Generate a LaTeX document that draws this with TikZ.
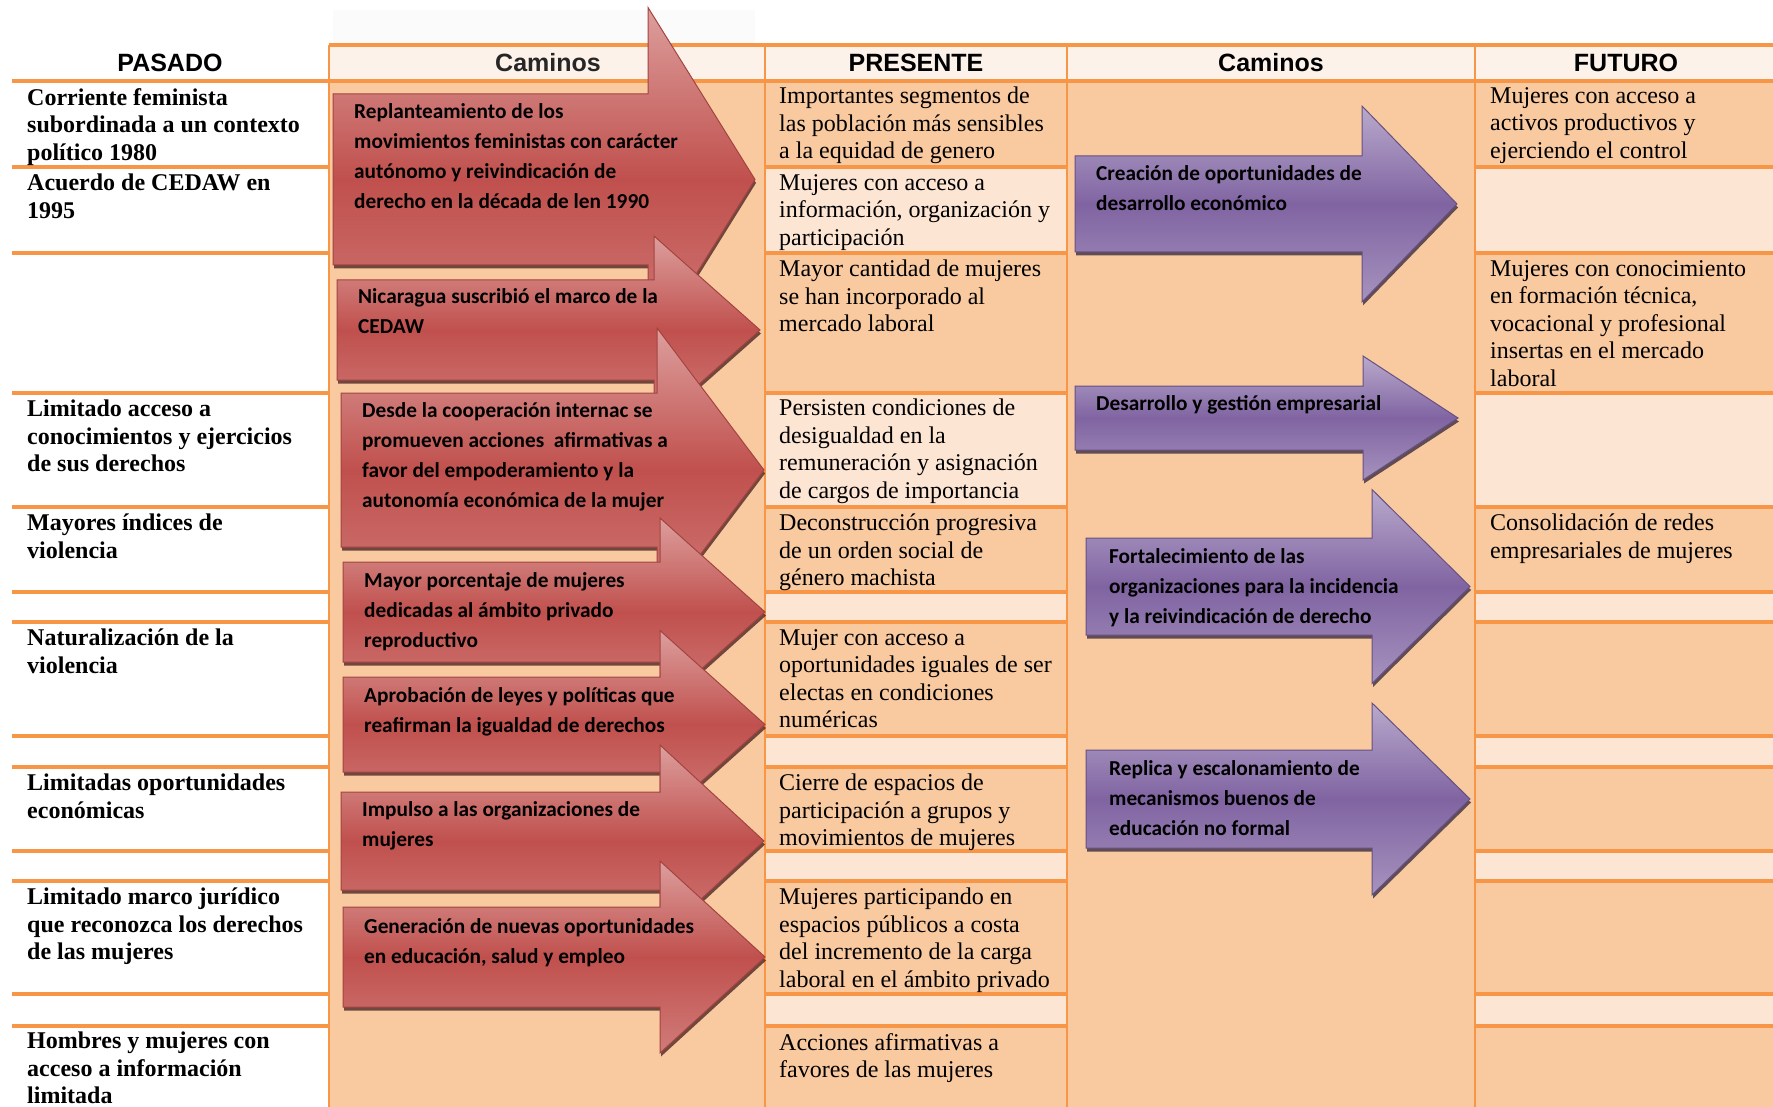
\documentclass[tikz,border=0pt]{standalone}
\usepackage{fontspec}
\setmainfont{Liberation Serif}
\newfontfamily\cabfont{Liberation Sans}
\newfontfamily\rutafont{Carlito}
\usetikzlibrary{shadows}

\definecolor{naranja}{HTML}{F79646}
\definecolor{durazno}{HTML}{F9C9A0}
\definecolor{claro}{HTML}{FDE5D3}
\definecolor{cabfill}{HTML}{FDF2E9}
\definecolor{rojo}{HTML}{C0504D}
\definecolor{morado}{HTML}{8064A2}

\begin{document}
\begin{tikzpicture}[
    x=1pt, y=-1pt,
    fila/.style={naranja, line width=3.5pt},
    col/.style={naranja, line width=2.5pt},
    cab/.style={anchor=base, inner sep=0pt, font=\cabfont\bfseries\fontsize{25}{28}\selectfont},
    pas/.style={anchor=north west, align=left, inner sep=0pt, font=\bfseries\fontsize{24}{27.5}\selectfont,
        execute at begin node={\rule{0pt}{16pt}}},
    celda/.style={anchor=north west, align=left, inner sep=0pt, font=\fontsize{24}{27.5}\selectfont,
        execute at begin node={\rule{0pt}{16pt}}},
    ruta/.style={anchor=north west, align=left, inner sep=0pt, font=\rutafont\bfseries\fontsize{21.3}{30}\selectfont,
        execute at begin node={\rule{0pt}{13pt}}},
    rutaroja/.style={draw=rojo!85!black, line width=1pt, top color=rojo!55!white, bottom color=rojo!75!white, middle color=rojo,
        drop shadow={shadow xshift=1pt, shadow yshift=-3.5pt, fill=rojo!35!black, opacity=.75}},
    rutamorada/.style={draw=morado!80!black, line width=1pt, top color=morado!55!white, bottom color=morado!70!white, middle color=morado,
        drop shadow={shadow xshift=1pt, shadow yshift=-3.5pt, fill=morado!35!black, opacity=.75}}
]
    \useasboundingbox (0,0) rectangle (1773,1107);
    \fill[white] (0,0) rectangle (1773,1107);

    % Background of the columns
    \fill[durazno] (329,81) rectangle (765,1107);
    \fill[durazno] (1067,81) rectangle (1475,1107);
    \fill[black!1.5] (333,10) rectangle (755,45);
    \fill[cabfill] (329,45) rectangle (1773,81);
    \foreach \t/\b/\c in {81/167/durazno, 167/253/claro, 253/393/durazno, 393/507/claro, 507/592/durazno,
        592/622/claro, 622/736/durazno, 736/767/claro, 767/851/durazno, 851/881/claro,
        881/994/durazno, 994/1026/claro, 1026/1107/durazno} {
        \fill[\c] (765,\t) rectangle (1067,\b);
        \fill[\c] (1475,\t) rectangle (1773,\b);
    }

    % Table lines
    \foreach \y in {81,167,253,393,507,592,622,736,767,851,881,994,1026} {
        \draw[fila] (12,\y) -- (329,\y);
        \draw[fila] (765,\y) -- (1067,\y);
        \draw[fila] (1475,\y) -- (1773,\y);
    }
    \draw[fila] (329,45) -- (1773,45);
    \draw[fila] (329,81) -- (765,81);
    \draw[fila] (1067,81) -- (1475,81);
    \foreach \x in {329,765,1067,1475} \draw[col] (\x,45) -- (\x,1107);

    % Headers
    \node[cab] (hpasado) at (170,72) {PASADO};
    \node[cab, text=black!85] (hcamino1) at (548,72) {Caminos};
    \node[cab] (hpresente) at (916,72) {PRESENTE};
    \node[cab] (hcamino2) at (1271,72) {Caminos};
    \node[cab] (hfuturo) at (1626,72) {FUTURO};

    % Red arrows (pasado -> presente)
    \foreach \l/\t/\b/\h/\p/\s in {333/94/265/648/755/172, 337/280/380/654/760/94, 341/393/547/657/764/142,
        343/562/662/660/765/94, 343/677/772/660/765/94, 341/792/890/660/764/96, 343/907/1007/660/765/96} {
        \pgfmathsetmacro{\m}{(\t+\b)/2}
        \path[rutaroja] (\l,\t) -- (\h,\t) -- (\h,{\m-\s}) -- (\p,\m) -- (\h,{\m+\s}) -- (\h,\b) -- (\l,\b) -- cycle;
    }

    % Purple arrows (presente -> futuro)
    \foreach \l/\t/\b/\h/\p/\s in {1075/156/252/1362/1457/98, 1075/386/450/1363/1458/62,
        1086/538/635/1372/1470/97, 1086/750/848/1372/1470/96} {
        \pgfmathsetmacro{\m}{(\t+\b)/2}
        \path[rutamorada] (\l,\t) -- (\h,\t) -- (\h,{\m-\s}) -- (\p,\m) -- (\h,{\m+\s}) -- (\h,\b) -- (\l,\b) -- cycle;
    }

    % PASADO
    \node[pas] (pas1) at (27,88) {Corriente feminista\\subordinada a un contexto\\político 1980};
    \node[pas] (pas2) at (27,174) {Acuerdo de CEDAW en\\1995};
    \node[pas] (pas3) at (27,400) {Limitado acceso a\\conocimientos y ejercicios\\de sus derechos};
    \node[pas] (pas4) at (27,514) {Mayores índices de\\violencia};
    \node[pas] (pas5) at (27,629) {Naturalización de la\\violencia};
    \node[pas] (pas6) at (27,774) {Limitadas oportunidades\\económicas};
    \node[pas] (pas7) at (27,888) {Limitado marco jurídico\\que reconozca los derechos\\de las mujeres};
    \node[pas] (pas8) at (27,1032) {Hombres y mujeres con\\acceso a información\\limitada};

    % Caminos (red)
    \node[ruta] (roja1) at (354,103) {Replanteamiento de los\\movimientos feministas con carácter\\autónomo y reivindicación de\\derecho en la década de len 1990};
    \node[ruta] (roja2) at (358,288) {Nicaragua suscribió el marco de la\\CEDAW};
    \node[ruta] (roja3) at (362,402) {Desde la cooperación internac se\\promueven acciones\ \ afirmativas a\\favor del empoderamiento y la\\autonomía económica de la mujer};
    \node[ruta] (roja4) at (364,572) {Mayor porcentaje de mujeres\\dedicadas al ámbito privado\\reproductivo};
    \node[ruta] (roja5) at (364,687) {Aprobación de leyes y políticas que\\reafirman la igualdad de derechos};
    \node[ruta] (roja6) at (362,801) {Impulso a las organizaciones de\\mujeres};
    \node[ruta] (roja7) at (364,918) {Generación de nuevas oportunidades\\en educación, salud y empleo};

    % PRESENTE
    \node[celda] (pre1) at (779,87) {Importantes segmentos de\\las población más sensibles\\a la equidad de genero};
    \node[celda] (pre2) at (779,174) {Mujeres con acceso a\\información, organización y\\participación};
    \node[celda] (pre3) at (779,260) {Mayor cantidad de mujeres\\se han incorporado al\\mercado laboral};
    \node[celda] (pre4) at (779,399) {Persisten condiciones de\\desigualdad en la\\remuneración y asignación\\de cargos de importancia};
    \node[celda] (pre5) at (779,514) {Deconstrucción progresiva\\de un orden social de\\género machista};
    \node[celda] (pre6) at (779,629) {Mujer con acceso a\\oportunidades iguales de ser\\electas en condiciones\\numéricas};
    \node[celda] (pre7) at (779,774) {Cierre de espacios de\\participación a grupos y\\movimientos de mujeres};
    \node[celda] (pre8) at (779,888) {Mujeres participando en\\espacios públicos a costa\\del incremento de la carga\\laboral en el ámbito privado};
    \node[celda] (pre9) at (779,1033) {Acciones afirmativas a\\favores de las mujeres};

    % Caminos (purple)
    \node[ruta] (morada1) at (1096,165) {Creación de oportunidades de\\desarrollo económico};
    \node[ruta] (morada2) at (1096,395) {Desarrollo y gestión empresarial};
    \node[ruta] (morada3) at (1109,548) {Fortalecimiento de las\\organizaciones para la incidencia\\y la reivindicación de derecho};
    \node[ruta] (morada4) at (1109,760) {Replica y escalonamiento de\\mecanismos buenos de\\educación no formal};

    % FUTURO
    \node[celda] (fut1) at (1490,87) {Mujeres con acceso a\\activos productivos y\\ejerciendo el control};
    \node[celda] (fut2) at (1490,260) {Mujeres con conocimiento\\en formación técnica,\\vocacional y profesional\\insertas en el mercado\\laboral};
    \node[celda] (fut3) at (1490,514) {Consolidación de redes\\empresariales de mujeres};
\end{tikzpicture}
\end{document}
